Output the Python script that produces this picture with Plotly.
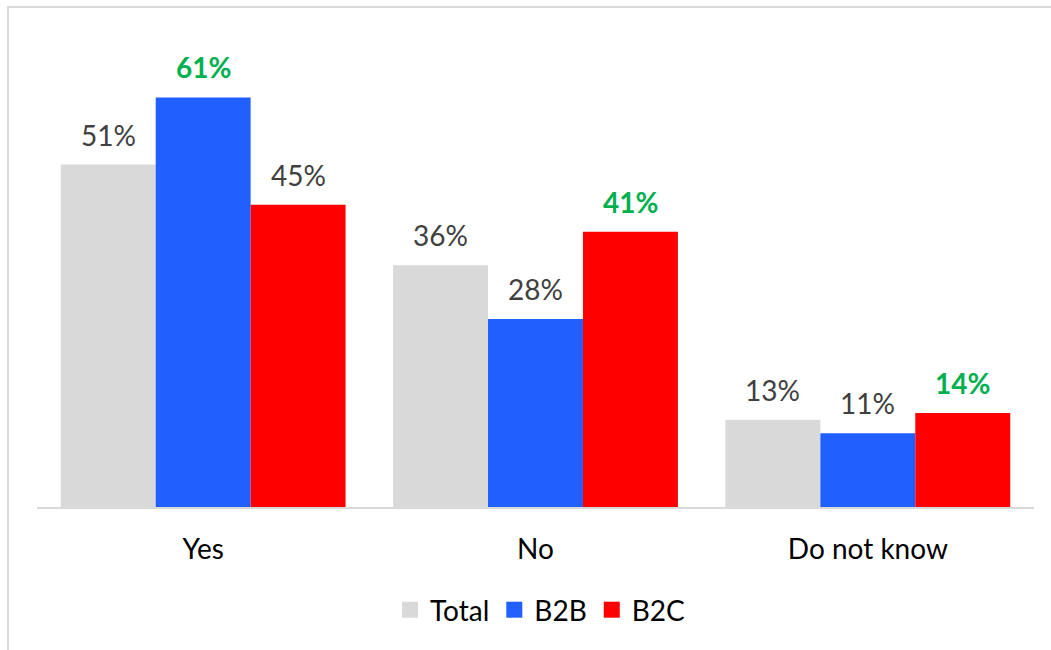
import plotly.graph_objects as go

categories = ["Yes", "No", "Do not know"]
series_names = ["Total", "B2B", "B2C"]
total = [51, 36, 13]
b2b = [61, 28, 11]
b2c = [45, 41, 14]
series_values = [total, b2b, b2c]
colors = ["#D9D9D9", "#2160FF", "#FF0000"]

FONT = "Lato"
BARGAP = 0.143
W, H = 1051, 650
ML, MR, MT, MB = 37, 17, 37, 143

fig = go.Figure()
for name, vals, col in zip(series_names, series_values, colors):
    fig.add_trace(go.Bar(name=name, x=categories, y=vals, showlegend=False,
                         marker=dict(color=col, line=dict(width=0))))
# legend entries with larger square swatches
for name, col in zip(series_names, colors):
    fig.add_trace(go.Scatter(name=name, x=[None], y=[None], mode="markers",
                             marker=dict(symbol="square", size=18, color=col), showlegend=True))

# value labels, highlighting the largest value in each category
n = len(series_names)
bw = (1 - BARGAP) / n
for ci, cat in enumerate(categories):
    col_vals = [s[ci] for s in series_values]
    mx = max(col_vals)
    for si, v in enumerate(col_vals):
        hi = v == mx and si > 0
        fig.add_annotation(
            x=ci + (si - (n - 1) / 2) * bw, y=v, xref="x", yref="y",
            text=(f"<b>{v}%</b>" if hi else f"{v}%"),
            showarrow=False, yanchor="middle", yshift=30,
            font=dict(family=FONT, size=28, color="#00B050" if hi else "#404040"),
        )

pw = W - ML - MR
ph = H - MT - MB
fig.add_shape(type="rect", xref="paper", yref="paper",
              x0=(8 - ML) / pw, x1=(W + 20 - ML) / pw,
              y0=(H - MB - 7) / ph, y1=(H - MB - (H + 20)) / ph,
              line=dict(color="#D9D9D9", width=2), fillcolor="rgba(0,0,0,0)", layer="below")

fig.update_layout(
    width=W, height=H,
    margin=dict(l=ML, r=MR, t=MT, b=MB),
    paper_bgcolor="white", plot_bgcolor="white",
    barmode="group", bargap=BARGAP, bargroupgap=0,
    font=dict(family=FONT, size=28, color="#000000"),
    showlegend=True,
    legend=dict(orientation="h", xanchor="center", x=0.505, yanchor="middle", y=(H - MB - 610) / ph,
                font=dict(family=FONT, size=28, color="#000000"), bgcolor="rgba(0,0,0,0)"),
    xaxis=dict(showline=True, linecolor="#D9D9D9", linewidth=1.5, showgrid=False,
               ticks="outside", ticklen=17, tickcolor="rgba(0,0,0,0)",
               tickfont=dict(family=FONT, size=28, color="#000000")),
    yaxis=dict(range=[0, 70], visible=False, showgrid=False, zeroline=False),
)

fig.write_html("out.html")
